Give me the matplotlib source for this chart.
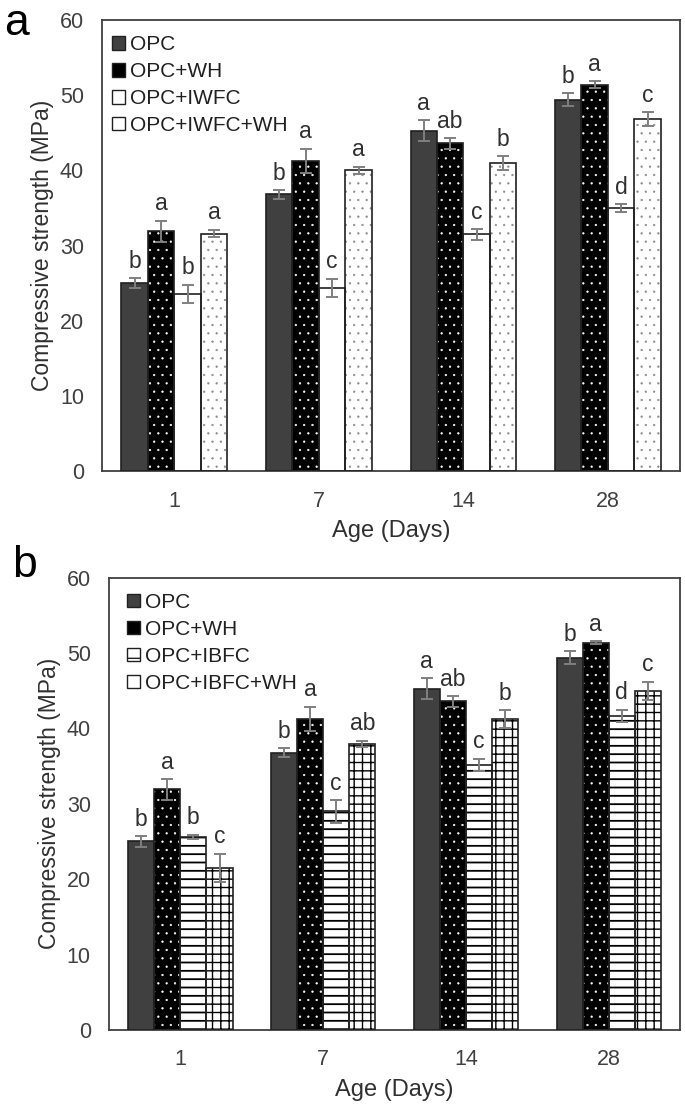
import numpy as np
import matplotlib
matplotlib.use("Agg")
import matplotlib.pyplot as plt
import matplotlib.patches as mpatches

plt.rcParams['font.family'] = ['Liberation Sans', 'DejaVu Sans']
plt.rcParams['hatch.linewidth'] = 1.0

ages = ["1", "7", "14", "28"]

# panel a
names_a = ["OPC", "OPC+WH", "OPC+IWFC", "OPC+IWFC+WH"]
means_a = [
    [25.0, 36.8, 45.3, 49.4],
    [31.9, 41.3, 43.6, 51.4],
    [23.6, 24.4, 31.5, 35.0],
    [31.6, 40.0, 41.0, 46.8],
]
errs_a = [
    [0.7, 0.6, 1.4, 0.9],
    [1.4, 1.6, 0.7, 0.5],
    [1.2, 1.2, 0.7, 0.5],
    [0.5, 0.5, 0.9, 0.9],
]
letters_a = [
    ["b", "b", "a", "b"],
    ["a", "a", "ab", "a"],
    ["b", "c", "c", "d"],
    ["a", "a", "b", "c"],
]

# panel b
names_b = ["OPC", "OPC+WH", "OPC+IBFC", "OPC+IBFC+WH"]
means_b = [
    [25.0, 36.8, 45.3, 49.4],
    [31.9, 41.3, 43.6, 51.4],
    [25.6, 29.0, 35.2, 41.7],
    [21.5, 38.0, 41.2, 45.0],
]
errs_b = [
    [0.7, 0.6, 1.4, 0.9],
    [1.4, 1.6, 0.7, 0.2],
    [0.3, 1.5, 0.8, 0.8],
    [1.9, 0.4, 1.2, 1.2],
]
letters_b = [
    ["b", "b", "a", "b"],
    ["a", "a", "ab", "a"],
    ["b", "c", "c", "d"],
    ["c", "ab", "b", "c"],
]

# fill, hatch, hatch colour, hatch line width per series
styles_a = [
    ("#404040", None, None, 1.0),
    ("black", "..", "white", 0.4),
    ("white", None, None, 1.0),
    ("white", "..", "#8a8a8a", 0.4),
]
styles_b = [
    ("#404040", None, None, 1.0),
    ("black", "..", "white", 0.4),
    ("white", "--", "black", 1.3),
    ("white", "++", "black", 1.0),
]


def draw_panel(ax, names, means, errs, letters, styles, tag, leg_x, tag_dy):
    x = np.arange(len(ages))
    w = 0.183
    offs = (np.arange(4) - 1.5) * w
    handles = []
    for i in range(4):
        fc, hatch, hc, hlw = styles[i]
        xs = x + offs[i]
        with plt.rc_context({'hatch.linewidth': hlw}):
            if hatch:
                ax.bar(xs, means[i], w, color=fc, hatch=hatch, edgecolor=hc,
                       linewidth=0, zorder=2)
            else:
                ax.bar(xs, means[i], w, color=fc, linewidth=0, zorder=2)
        ax.bar(xs, means[i], w, facecolor='none', edgecolor='#202020',
               linewidth=1.2, zorder=3)
        ax.errorbar(xs, means[i], yerr=errs[i], fmt='none', ecolor='#7f7f7f',
                    elinewidth=1.4, capsize=4, capthick=1.4, zorder=4)
        for j in range(len(ages)):
            ax.text(xs[j], means[i][j] + errs[i][j] + 0.7, letters[i][j],
                    ha='center', va='bottom', fontsize=16.5, color='#303030')
        handles.append(mpatches.Patch(facecolor=fc, edgecolor='#202020',
                                      hatch=None if hatch in (None, "..") else hatch[0],
                                      linewidth=1.0, label=names[i]))
    ax.set_xlim(-0.5, 3.5)
    ax.set_ylim(0, 60)
    ax.set_yticks(range(0, 61, 10))
    ax.set_xticks(x)
    ax.set_xticklabels(ages)
    ax.tick_params(axis='both', length=0, labelsize=15.5, colors='#404040')
    ax.tick_params(axis='x', pad=14)
    ax.tick_params(axis='y', pad=13)
    for s in ax.spines.values():
        s.set_color('#404040')
        s.set_linewidth(1.3)
    ax.set_xlabel("Age (Days)", fontsize=17, color='#303030', labelpad=6)
    ax.set_ylabel("Compressive strength (MPa)", fontsize=16.5, color='#303030',
                  labelpad=4)
    ax.legend(handles=handles, loc='upper left', bbox_to_anchor=(leg_x, 0.975),
              frameon=False, fontsize=15, handlelength=0.6, handleheight=0.6,
              handletextpad=0.25, labelspacing=0.38, borderaxespad=0.0,
              borderpad=0.2, labelcolor='#202020')
    ax.text(-0.17, 1.0 + tag_dy, tag, transform=ax.transAxes, fontsize=32,
            ha='left', va='center', color='black')


fig = plt.figure(figsize=(6.85, 11.11), dpi=100)
ax1 = fig.add_axes([0.149, 0.576, 0.844, 0.406])
ax2 = fig.add_axes([0.159, 0.073, 0.834, 0.407])
draw_panel(ax1, names_a, means_a, errs_a, letters_a, styles_a, "a", 0.01, -0.008)
draw_panel(ax2, names_b, means_b, errs_b, letters_b, styles_b, "b", 0.025, 0.028)

fig.savefig("out.png", dpi=100)
